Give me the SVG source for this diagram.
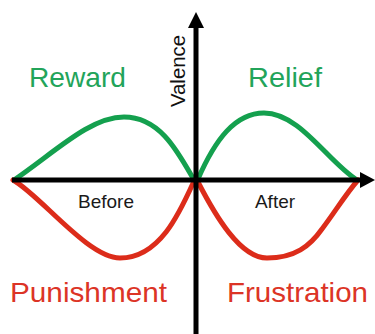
<svg xmlns="http://www.w3.org/2000/svg" width="375" height="334" viewBox="0 0 375 334">
<style>
.g{fill:none;stroke:#14a04e;stroke-width:5;stroke-linecap:round;stroke-linejoin:round}
.r{fill:none;stroke:#dc2c1a;stroke-width:5;stroke-linecap:round;stroke-linejoin:round}
.ax{stroke:#000;stroke-width:5;fill:none}
.t{font-family:"Liberation Sans",Arial,sans-serif}
.gt{fill:#22a45a;font-size:28px}
.rt{fill:#dc3426;font-size:28px}
.bt{fill:#1a1a1a;font-size:19px}
</style>
<rect width="375" height="334" fill="#fff"/>
<g id="curves">
<path id="reward-curve" class="g" d="M14,180 C55,152 90,117 124,117 C160,117 178,152 194,180"/>
<path id="relief-curve" class="g" d="M198,179 C215,140 235,113 264,113 C300,113 328,162 357,180"/>
<path id="punishment-curve" class="r" d="M13,180 C40,195 88,258 120,258 C160,258 180,212 194,181"/>
<path id="frustration-curve" class="r" d="M198,182 C215,215 240,258 267,258 C295,258 310,246 322,229 C335,212 345,195 358,180"/>
</g>
<g id="axes">
<line class="ax" x1="12" y1="180" x2="362" y2="180"/>
<polygon points="360,172 375,180 360,188" fill="#000"/>
<line class="ax" x1="196" y1="334" x2="196" y2="26"/>
<polygon points="188,28 196,12 204,28" fill="#000"/>
</g>
<g id="labels">
<text class="t gt" x="29" y="87" textLength="97" lengthAdjust="spacingAndGlyphs">Reward</text>
<text class="t gt" x="248" y="87" textLength="74" lengthAdjust="spacingAndGlyphs">Relief</text>
<text class="t rt" x="10" y="302" textLength="157" lengthAdjust="spacingAndGlyphs">Punishment</text>
<text class="t rt" x="227" y="302" textLength="141" lengthAdjust="spacingAndGlyphs">Frustration</text>
<text class="t bt" x="106" y="208" text-anchor="middle">Before</text>
<text class="t bt" x="275" y="208" text-anchor="middle">After</text>
<text class="t" x="0" y="0" font-size="20" fill="#111" transform="translate(185,107) rotate(-90)" textLength="72" lengthAdjust="spacingAndGlyphs">Valence</text>
</g>
</svg>
